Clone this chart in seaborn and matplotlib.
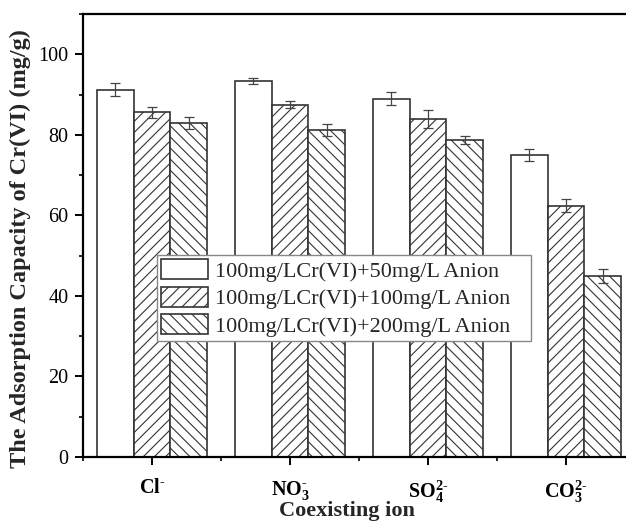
import matplotlib
matplotlib.use("Agg")
import matplotlib.pyplot as plt
import seaborn as sns
import pandas as pd
import numpy as np
from matplotlib.ticker import MultipleLocator

# ---- data ----
ions = [r"$\mathbf{Cl^{\text{-}}}$", r"$\mathbf{NO_3^{\text{-}}}$",
        r"$\mathbf{SO_4^{2\text{-}}}$", r"$\mathbf{CO_3^{2\text{-}}}$"]
conditions = ["100mg/LCr(VI)+50mg/L Anion",
              "100mg/LCr(VI)+100mg/L Anion",
              "100mg/LCr(VI)+200mg/L Anion"]
cap_50 = [91.2, 93.3, 89.0, 75.0]
cap_100 = [85.6, 87.5, 84.0, 62.4]
cap_200 = [83.0, 81.2, 78.7, 45.0]
err_50 = [1.6, 0.75, 1.7, 1.5]
err_100 = [1.3, 0.9, 2.2, 1.6]
err_200 = [1.5, 1.4, 1.0, 1.8]

values = [cap_50, cap_100, cap_200]
errors = [err_50, err_100, err_200]

rows = []
for c, vals in zip(conditions, values):
    for ion, v in zip(ions, vals):
        rows.append({"ion": ion, "cond": c, "val": v})
df = pd.DataFrame(rows)

sns.set_style("ticks")
plt.rcParams["font.family"] = ["Liberation Serif", "DejaVu Serif"]
plt.rcParams["mathtext.fontset"] = "custom"
plt.rcParams["mathtext.rm"] = "Liberation Serif:bold"
plt.rcParams["mathtext.bf"] = "Liberation Serif:bold"
plt.rcParams["mathtext.it"] = "Liberation Serif:italic"
plt.rcParams["hatch.color"] = "#444444"
plt.rcParams["hatch.linewidth"] = 0.8

fig = plt.figure(figsize=(6.26, 5.25), dpi=100)
ax = fig.add_axes([83 / 626, 1 - 457 / 525, 552 / 626, (457 - 14) / 525])

sns.barplot(data=df, x="ion", y="val", hue="cond", order=ions, hue_order=conditions,
            palette=["white"] * 3, edgecolor="#333333", linewidth=1.2,
            errorbar=None, width=0.8, ax=ax, legend=False)

hatches = ["", "///", "\\\\\\"]
for cont, h, errs in zip(ax.containers, hatches, errors):
    xs = []
    ys = []
    for p in cont.patches:
        p.set_hatch(h)
        p.set_facecolor("white")
        xs.append(p.get_x() + p.get_width() / 2)
        ys.append(p.get_height())
    ax.errorbar(xs, ys, yerr=errs, fmt="none", ecolor="#444444",
                elinewidth=0.9, capsize=3.5, capthick=0.9, zorder=5)

ax.set_xlim(-0.5, 3.5)
ax.set_ylim(0, 110)
ax.yaxis.set_major_locator(MultipleLocator(20))
ax.yaxis.set_minor_locator(MultipleLocator(10))
ax.set_xticks(range(len(ions)))
ax.set_xticks(np.arange(-0.5, 3.6, 1.0), minor=True)
ax.set_xticklabels(ions, fontsize=14.5)

for s in ["left", "bottom", "top"]:
    ax.spines[s].set_visible(True)
    ax.spines[s].set_linewidth(1.6)
    ax.spines[s].set_color("black")
ax.spines["right"].set_visible(False)

ax.tick_params(axis="both", which="major", direction="out", length=5.5, width=1.4,
               colors="black")
ax.tick_params(axis="y", which="major", labelsize=14.5, pad=5)
ax.tick_params(axis="both", which="minor", direction="out", length=3, width=1.2,
               colors="black")
ax.tick_params(axis="x", which="major", pad=10)

ax.set_xlabel("Coexisting ion", fontsize=16, fontweight="bold")
ax.xaxis.set_label_coords((347 - 83) / 552, (457 - 501) / 443)
ax.set_ylabel("The Adsorption Capacity of Cr(VI) (mg/g)", fontsize=17.5,
              fontweight="bold")
ax.yaxis.set_label_coords((31 - 83) / 552, (457 - 249) / 443)

leg = ax.legend(ax.containers, conditions, loc="upper left",
                bbox_to_anchor=(157 / 626, 1 - 343 / 525, (531 - 157) / 626, 88 / 525),
                bbox_transform=fig.transFigure, mode="expand", fontsize=16,
                frameon=True, fancybox=False, edgecolor="#888888",
                framealpha=1, handlelength=2.1, handleheight=1.0,
                borderpad=0.2, labelspacing=0.22, handletextpad=0.3,
                borderaxespad=0)
leg.get_frame().set_linewidth(1.0)

fig.savefig("out.png", dpi=100)
